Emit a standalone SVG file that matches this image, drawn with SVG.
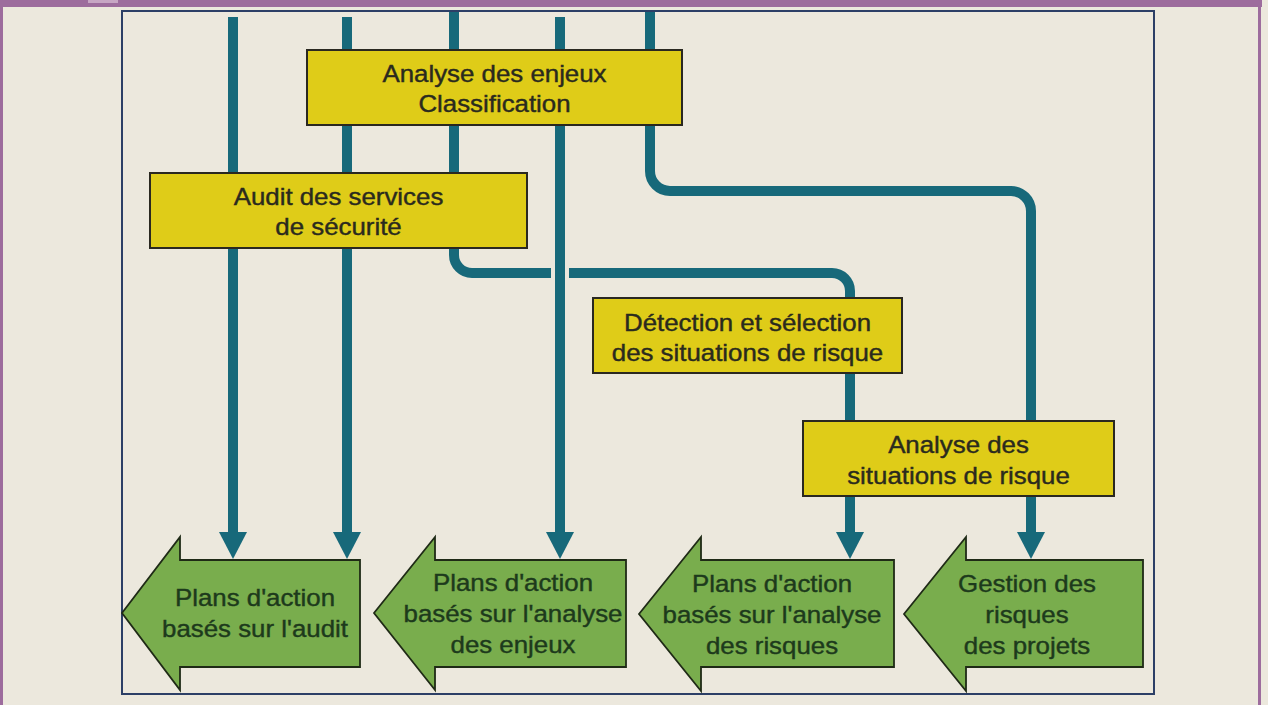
<svg xmlns="http://www.w3.org/2000/svg" width="1268" height="705" viewBox="0 0 1268 705">
  <defs>
    <style>
      .page { fill: #ece8dd; }
      .edge { fill: #9d6c9d; }
      .frame { fill: none; stroke: #2c3f66; stroke-width: 2; }
      .wire { fill: none; stroke: #17697a; stroke-width: 10; stroke-linecap: butt; }
      .step rect { fill: #dfcc18; stroke: #2a2820; stroke-width: 2; }
      .plan path { fill: #79ad4d; stroke: #1f2a16; stroke-width: 1.8; stroke-linejoin: miter; }
      text { font-family: "Liberation Sans", Arial, Helvetica, sans-serif; font-size: 23.5px; text-anchor: middle; stroke-width: 0.4px; }
      .step text { fill: #2a2a1e; stroke: #2a2a1e; }
      .plan text { fill: #1d3a1c; stroke: #1d3a1c; }
    </style>
    <marker id="head" viewBox="0 -14 27 28" refX="0" refY="0" markerWidth="27" markerHeight="28" markerUnits="userSpaceOnUse" orient="auto">
      <path d="M0,-14 L27,0 L0,14 Z" fill="#17697a"/>
    </marker>
  </defs>

  <!-- page background and coloured page edges -->
  <rect class="page" x="0" y="0" width="1268" height="705"/>
  <rect class="edge" x="0" y="0" width="1262" height="7"/>
  <rect x="88" y="0" width="30" height="3" fill="#c7a6c4"/>
  <rect class="edge" x="0" y="0" width="3" height="705"/>
  <rect class="edge" x="1258" y="0" width="3" height="705"/>

  <!-- outer frame -->
  <rect class="frame" x="122" y="11" width="1032" height="683"/>

  <!-- connectors -->
  <g id="connectors">
    <path class="wire" d="M233,17 V532" marker-end="url(#head)"/>
    <path class="wire" d="M347,17 V532" marker-end="url(#head)"/>
    <path class="wire" d="M560,17 V532" marker-end="url(#head)"/>
    <path class="wire" d="M454,12 V255 A18,18 0 0 0 472,273 H551 M569,273 H832 A18,18 0 0 1 850,291 V532" marker-end="url(#head)"/>
    <path class="wire" d="M650,12 V171 A20,20 0 0 0 670,191 H1011 A20,20 0 0 1 1031,211 V532" marker-end="url(#head)"/>
  </g>

  <!-- process steps -->
  <g id="enjeux" class="step">
    <rect x="307" y="50" width="375" height="75"/>
    <text transform="translate(494.5 0) scale(1.1 1)" x="0" y="82">Analyse des enjeux</text>
    <text transform="translate(494.5 0) scale(1.1 1)" x="0" y="112">Classification</text>
  </g>
  <g id="audit" class="step">
    <rect x="150" y="173" width="377" height="75"/>
    <text transform="translate(338.5 0) scale(1.1 1)" x="0" y="205">Audit des services</text>
    <text transform="translate(338.5 0) scale(1.1 1)" x="0" y="235">de sécurité</text>
  </g>
  <g id="detection" class="step">
    <rect x="593" y="298" width="309" height="75"/>
    <text transform="translate(747.5 0) scale(1.1 1)" x="0" y="331">Détection et sélection</text>
    <text transform="translate(747.5 0) scale(1.1 1)" x="0" y="361">des situations de risque</text>
  </g>
  <g id="analyse-risques" class="step">
    <rect x="803" y="421" width="311" height="75"/>
    <text transform="translate(958.5 0) scale(1.1 1)" x="0" y="453">Analyse des</text>
    <text transform="translate(958.5 0) scale(1.1 1)" x="0" y="484">situations de risque</text>
  </g>

  <!-- resulting action plans -->
  <g id="plan-audit" class="plan">
    <path d="M122,613 L180,537 V560 H360 V667 H180 V690 Z"/>
    <text transform="translate(255 0) scale(1.1 1)" x="0" y="606">Plans d'action</text>
    <text transform="translate(255 0) scale(1.1 1)" x="0" y="637">basés sur l'audit</text>
  </g>
  <g id="plan-enjeux" class="plan">
    <path d="M374,613 L435,537 V560 H626 V667 H435 V690 Z"/>
    <text transform="translate(513 0) scale(1.1 1)" x="0" y="591">Plans d'action</text>
    <text transform="translate(513 0) scale(1.1 1)" x="0" y="622">basés sur l'analyse</text>
    <text transform="translate(513 0) scale(1.1 1)" x="0" y="653">des enjeux</text>
  </g>
  <g id="plan-risques" class="plan">
    <path d="M639,614 L701,537 V560 H894 V667 H701 V691 Z"/>
    <text transform="translate(772 0) scale(1.1 1)" x="0" y="592">Plans d'action</text>
    <text transform="translate(772 0) scale(1.1 1)" x="0" y="623">basés sur l'analyse</text>
    <text transform="translate(772 0) scale(1.1 1)" x="0" y="654">des risques</text>
  </g>
  <g id="gestion-projets" class="plan">
    <path d="M904,614 L966,537 V560 H1143 V667 H966 V691 Z"/>
    <text transform="translate(1027 0) scale(1.1 1)" x="0" y="592">Gestion des</text>
    <text transform="translate(1027 0) scale(1.1 1)" x="0" y="623">risques</text>
    <text transform="translate(1027 0) scale(1.1 1)" x="0" y="654">des projets</text>
  </g>
</svg>
